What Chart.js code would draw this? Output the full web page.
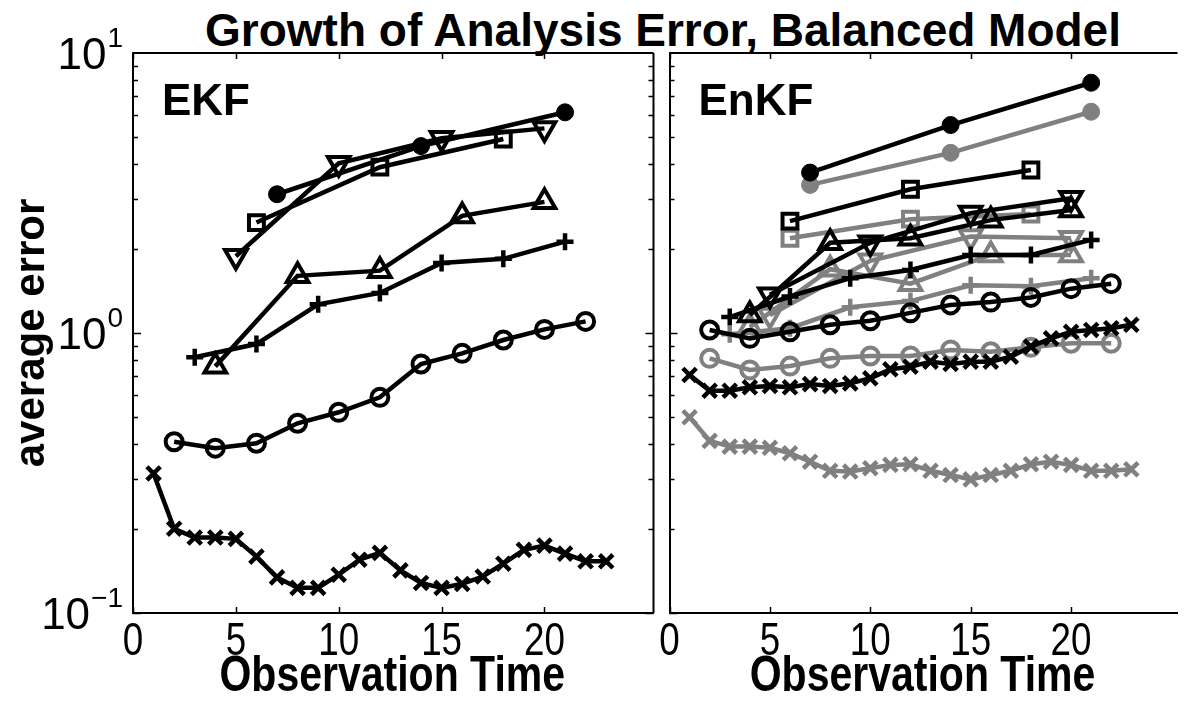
<!DOCTYPE html>
<html><head><meta charset="utf-8">
<script src="https://cdn.jsdelivr.net/npm/chart.js@4.4.0/dist/chart.umd.min.js"></script>
<style>
html,body{margin:0;padding:0;background:#fff;width:1190px;height:702px;overflow:hidden;position:relative}
#title{position:absolute;left:163px;top:3px;width:1000px;height:50px;line-height:50px;text-align:center;font:bold 46px "Liberation Sans",Arial,sans-serif;color:#000;white-space:nowrap}
#wl{position:absolute;left:0;top:0;width:670px;height:702px}
#wr{position:absolute;left:653px;top:0;width:541px;height:702px}
</style></head><body>
<div id="title">Growth of Analysis Error, Balanced Model</div>
<div id="wl"><canvas id="cl" width="670" height="702"></canvas></div>
<div id="wr"><canvas id="cr" width="541" height="702"></canvas></div>
<script>
// ---------- data ----------
const xTicks = [0, 5, 10, 15, 20];
const xTickLabels = ['0', '5', '10', '15', '20'];
const yDecades = [0.1, 1, 10];
const yExponents = ['\u22121', '0', '1'];
const xTitle = 'Observation Time';
const yTitle = 'average error';

// EKF panel
const ekfXmarkT = [1,2,3,4,5,6,7,8,9,10,11,12,13,14,15,16,17,18,19,20,21,22,23];
const ekfXmarkV = [0.315,0.200,0.186,0.186,0.184,0.159,0.134,0.123,0.123,0.137,0.155,0.164,0.142,0.128,0.123,0.127,0.135,0.150,0.168,0.174,0.163,0.153,0.153];
const ekfCircleT = [2,4,6,8,10,12,14,16,18,20,22];
const ekfCircleV = [0.409,0.388,0.404,0.476,0.521,0.589,0.775,0.846,0.944,1.03,1.10];
const ekfPlusT = [3,6,9,12,15,18,21];
const ekfPlusV = [0.819,0.913,1.266,1.39,1.78,1.84,2.12];
const ekfUpT = [4,8,12,16,20];
const ekfUpV = [0.76,1.60,1.67,2.62,2.94];
const ekfDownT = [5,10,15,20];
const ekfDownV = [1.88,4.04,4.96,5.38];
const ekfSquareT = [6,12,18];
const ekfSquareV = [2.48,3.91,4.93];
const ekfDotT = [7,14,21];
const ekfDotV = [3.13,4.65,6.14];

// EnKF panel, black series
const enkDotT = [7,14,21];
const enkDotV = [3.74,5.53,7.83];
const enkSquareT = [6,12,18];
const enkSquareV = [2.51,3.26,3.82];
const enkDownT = [5,10,15,20];
const enkDownV = [1.37,2.10,2.68,3.03];
const enkUpT = [4,8,12,16,20];
const enkUpV = [1.16,2.10,2.18,2.53,2.75];
const enkPlusT = [3,6,9,12,15,18,21];
const enkPlusV = [1.14,1.35,1.57,1.68,1.90,1.90,2.15];
const enkCircleT = [2,4,6,8,10,12,14,16,18,20,22];
const enkCircleV = [1.025,0.957,1.01,1.07,1.106,1.18,1.26,1.29,1.34,1.44,1.50];
const enkXmarkT = [1,2,3,4,5,6,7,8,9,10,11,12,13,14,15,16,17,18,19,20,21,22,23];
const enkXmarkV = [0.708,0.622,0.622,0.640,0.647,0.640,0.657,0.647,0.661,0.689,0.742,0.758,0.790,0.775,0.790,0.790,0.823,0.894,0.957,1.01,1.025,1.04,1.07];

// EnKF panel, gray series
const enkGDotV = [3.38,4.40,6.17];
const enkGSquareV = [2.18,2.55,2.66];
const enkGDownV = [1.16,1.81,2.21,2.18];
const enkGUpV = [1.05,1.69,1.50,1.90,1.90];
const enkGPlusV = [0.99,1.04,1.235,1.30,1.48,1.47,1.57];
const enkGCircleV = [0.812,0.738,0.762,0.812,0.828,0.828,0.870,0.857,0.889,0.919,0.919];
const enkGXmarkV = [0.500,0.412,0.393,0.393,0.389,0.372,0.347,0.322,0.320,0.329,0.338,0.340,0.322,0.311,0.300,0.311,0.322,0.340,0.347,0.338,0.322,0.322,0.326];

// ---------- styling ----------
const BLACK = '#000000', GRAY = '#808080';
const SANS = '"Liberation Sans", Arial, sans-serif';
const MARK = {
  xmark:  {pointStyle:'crossRot', pointRadius:9.5, pointBorderWidth:4.5, fill:false},
  circle: {pointStyle:'circle',   pointRadius:8.5, pointBorderWidth:4,   fill:false},
  plus:   {pointStyle:'cross',    pointRadius:8.5, pointBorderWidth:4.5, fill:false},
  up:     {pointStyle:'triangle', pointRadius:12.5,pointBorderWidth:4,   fill:false},
  down:   {pointStyle:'triangle', pointRadius:12.5,pointBorderWidth:4,   fill:false, rotation:180},
  square: {pointStyle:'rect',     pointRadius:10.5,pointBorderWidth:4,   fill:false},
  dot:    {pointStyle:'circle',   pointRadius:8.5, pointBorderWidth:1,   fill:true}
};
function series(t, v, kind, color) {
  const m = MARK[kind];
  return {
    data: t.map((x, i) => ({x: x, y: v[i]})),
    borderColor: color, borderWidth: 4.5, tension: 0, fill: false,
    pointStyle: m.pointStyle, pointRadius: m.pointRadius, pointRotation: m.rotation || 0,
    pointBorderWidth: m.pointBorderWidth, pointBorderColor: color,
    pointBackgroundColor: m.fill ? color : 'rgba(0,0,0,0)',
    pointHoverRadius: m.pointRadius
  };
}

// text drawn horizontally condensed (narrow face)
function narrowText(ctx, text, x, y, font, sx, rot) {
  ctx.save();
  ctx.font = font; ctx.textAlign = 'center'; ctx.textBaseline = 'alphabetic';
  ctx.translate(x, y);
  if (rot) ctx.rotate(rot);
  ctx.scale(sx, 1);
  ctx.fillText(text, 0, 0);
  ctx.restore();
}

// frame, inward ticks, labels
const framePlugin = {
  id: 'frame',
  afterDraw(chart, args, o) {
    const {ctx, chartArea: a, scales: {x, y}} = chart;
    ctx.save();
    ctx.strokeStyle = '#000'; ctx.lineWidth = 2; ctx.lineCap = 'butt';
    ctx.beginPath();
    ctx.moveTo(a.left, a.top); ctx.lineTo(a.right, a.top);
    if (o.rightBorder) { ctx.moveTo(a.right, a.top); ctx.lineTo(a.right, a.bottom); }
    ctx.stroke();
    ctx.lineWidth = 1.5;
    ctx.beginPath();
    for (const v of xTicks) {
      const px = Math.round(x.getPixelForValue(v)) + 0.5;
      ctx.moveTo(px, a.bottom); ctx.lineTo(px, a.bottom - 6);
      ctx.moveTo(px, a.top); ctx.lineTo(px, a.top + 6);
    }
    for (let d = 0; d < 2; d++) {
      for (let k = 1; k <= 9; k++) {
        const val = yDecades[d] * k;
        const py = Math.round(y.getPixelForValue(val)) + 0.5;
        const len = k === 1 ? 8 : 5;
        ctx.moveTo(a.left, py); ctx.lineTo(a.left + len, py);
        if (o.rightBorder) { ctx.moveTo(a.right, py); ctx.lineTo(a.right - len, py); }
      }
    }
    ctx.stroke();
    ctx.fillStyle = '#000';
    // panel label
    ctx.font = 'bold 44px ' + SANS;
    ctx.textBaseline = 'alphabetic'; ctx.textAlign = 'left';
    ctx.fillText(o.label, a.left + 29, 115);
    // x tick labels and axis title (narrow face)
    xTicks.forEach((v, i) => {
      narrowText(ctx, xTickLabels[i], x.getPixelForValue(v), 655, '46px ' + SANS, 0.8, 0);
    });
    narrowText(ctx, xTitle, (a.left + a.right) / 2 - 1, 691, 'bold 50px ' + SANS, 0.82, 0);
    // y tick labels (10 with exponent) and y title
    if (o.yLabels) {
      yDecades.forEach((v, i) => {
        const py = y.getPixelForValue(v);
        ctx.font = '44px ' + SANS;
        const w1 = ctx.measureText('10').width;
        ctx.font = '28px ' + SANS;
        const w2 = ctx.measureText(yExponents[i]).width;
        const R = a.left - 10;
        const x0 = R - w2 - w1 - 1;
        ctx.textAlign = 'left';
        ctx.font = '44px ' + SANS;
        ctx.fillText('10', x0, py + 16);
        ctx.font = '28px ' + SANS;
        ctx.fillText(yExponents[i], x0 + w1 + 1, py - 6);
      });
      narrowText(ctx, yTitle, 44, (a.top + a.bottom) / 2, 'bold 42px ' + SANS, 1, -Math.PI / 2);
    }
    ctx.restore();
  }
};

function makeOptions(label, isLeft) {
  return {
    responsive: false, animation: false, devicePixelRatio: 1,
    layout: {padding: {top: 53, right: isLeft ? 7 : 0, left: isLeft ? 0 : 10, bottom: 0}},
    plugins: {
      legend: {display: false}, tooltip: {enabled: false}, title: {display: false},
      frame: {label: label, yLabels: isLeft, rightBorder: isLeft}
    },
    scales: {
      x: {
        type: 'linear', min: 0, max: 25.3,
        afterBuildTicks: s => { s.ticks = xTicks.map(v => ({value: v})); },
        afterFit: s => { s.height = 89; },
        grid: {display: false, drawTicks: false},
        border: {display: true, color: '#000', width: 2},
        ticks: {display: false},
        title: {display: false}
      },
      y: {
        type: 'logarithmic', min: 0.1, max: 10,
        afterFit: s => { s.width = isLeft ? 133 : 0; },
        grid: {display: false, drawTicks: false},
        border: {display: true, color: '#000', width: 2},
        ticks: {display: false},
        title: {display: false}
      }
    }
  };
}

new Chart(document.getElementById('cl'), {
  type: 'line',
  data: {datasets: [
    series(ekfDotT, ekfDotV, 'dot', BLACK),
    series(ekfSquareT, ekfSquareV, 'square', BLACK),
    series(ekfDownT, ekfDownV, 'down', BLACK),
    series(ekfUpT, ekfUpV, 'up', BLACK),
    series(ekfPlusT, ekfPlusV, 'plus', BLACK),
    series(ekfCircleT, ekfCircleV, 'circle', BLACK),
    series(ekfXmarkT, ekfXmarkV, 'xmark', BLACK)
  ]},
  options: makeOptions('EKF', true),
  plugins: [framePlugin]
});

new Chart(document.getElementById('cr'), {
  type: 'line',
  data: {datasets: [
    series(enkDotT, enkDotV, 'dot', BLACK),
    series(enkSquareT, enkSquareV, 'square', BLACK),
    series(enkDownT, enkDownV, 'down', BLACK),
    series(enkUpT, enkUpV, 'up', BLACK),
    series(enkPlusT, enkPlusV, 'plus', BLACK),
    series(enkCircleT, enkCircleV, 'circle', BLACK),
    series(enkXmarkT, enkXmarkV, 'xmark', BLACK),
    series(enkDotT, enkGDotV, 'dot', GRAY),
    series(enkSquareT, enkGSquareV, 'square', GRAY),
    series(enkDownT, enkGDownV, 'down', GRAY),
    series(enkUpT, enkGUpV, 'up', GRAY),
    series(enkPlusT, enkGPlusV, 'plus', GRAY),
    series(enkCircleT, enkGCircleV, 'circle', GRAY),
    series(enkXmarkT, enkGXmarkV, 'xmark', GRAY)
  ]},
  options: makeOptions('EnKF', false),
  plugins: [framePlugin]
});
</script>
</body></html>
